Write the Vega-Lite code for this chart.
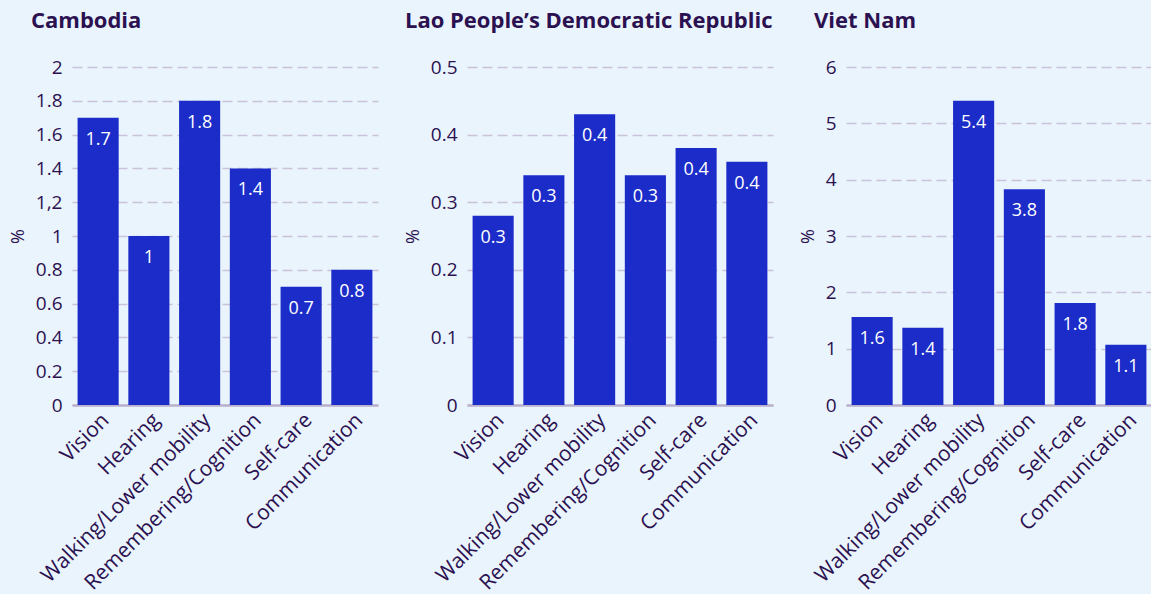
{
  "$schema": "https://vega.github.io/schema/vega-lite/v6.json",
  "background": "#eaf4fd",
  "padding": {"left": 9, "top": 10, "right": 0, "bottom": 0},
  "spacing": 26,
  "datasets": {
    "cambodia": [
      {"domain": "Vision", "value": 1.7},
      {"domain": "Hearing", "value": 1.0},
      {"domain": "Walking/Lower mobility", "value": 1.8},
      {"domain": "Remembering/Cognition", "value": 1.4},
      {"domain": "Self-care", "value": 0.7},
      {"domain": "Communication", "value": 0.8}
    ],
    "lao": [
      {"domain": "Vision", "value": 0.28},
      {"domain": "Hearing", "value": 0.34},
      {"domain": "Walking/Lower mobility", "value": 0.43},
      {"domain": "Remembering/Cognition", "value": 0.34},
      {"domain": "Self-care", "value": 0.38},
      {"domain": "Communication", "value": 0.36}
    ],
    "vietnam": [
      {"domain": "Vision", "value": 1.56},
      {"domain": "Hearing", "value": 1.37},
      {"domain": "Walking/Lower mobility", "value": 5.4},
      {"domain": "Remembering/Cognition", "value": 3.83},
      {"domain": "Self-care", "value": 1.81},
      {"domain": "Communication", "value": 1.07}
    ]
  },
  "config": {
    "font": "Open Sans",
    "view": {"stroke": null},
    "title": {"anchor": "start", "fontSize": 22, "fontWeight": "bold", "color": "#2b1150", "frame": "group", "offset": 25},
    "axis": {"labelColor": "#2b1150", "titleColor": "#2b1150", "labelFontSize": 19, "titleFontSize": 18, "titleFontWeight": "normal", "ticks": false, "labelLimit": 0},
    "axisX": {"labelAngle": -45, "domainColor": "#b9b0cc", "domainWidth": 2.5, "labelPadding": 4, "title": null, "labelFontSize": 21},
    "axisY": {"domain": false, "gridDash": [10, 5], "gridColor": "#c9c2d8", "gridWidth": 1.5, "labelPadding": 10, "titlePadding": 8, "format": "~g"},
    "bar": {"color": "#1b2cc8"},
    "text": {"color": "white", "fontSize": 18, "baseline": "top", "dy": 13}
  },
  "hconcat": [
    {
      "title": {"text": "Cambodia", "dx": -41},
      "data": {"name": "cambodia"},
      "width": 306,
      "height": 338,
      "encoding": {
        "x": {"field": "domain", "type": "nominal", "sort": null, "scale": {"paddingInner": 0.19, "paddingOuter": 0.11}},
        "y": {"field": "value", "type": "quantitative", "title": "%", "scale": {"domain": [0, 2], "nice": false}, "axis": {"values": [0, 0.2, 0.4, 0.6, 0.8, 1, 1.2, 1.4, 1.6, 1.8, 2], "labelExpr": "datum.value == 1.2 ? '1,2' : datum.label"}}
      },
      "layer": [
        {"mark": "bar"},
        {"mark": "text", "encoding": {"text": {"field": "value", "type": "quantitative", "format": ".1~f"}}}
      ]
    },
    {
      "title": {"text": "Lao People’s Democratic Republic", "dx": -62},
      "data": {"name": "lao"},
      "width": 306,
      "height": 338,
      "encoding": {
        "x": {"field": "domain", "type": "nominal", "sort": null, "scale": {"paddingInner": 0.19, "paddingOuter": 0.11}},
        "y": {"field": "value", "type": "quantitative", "title": "%", "scale": {"domain": [0, 0.5], "nice": false}, "axis": {"values": [0, 0.1, 0.2, 0.3, 0.4, 0.5]}}
      },
      "layer": [
        {"mark": "bar"},
        {"mark": "text", "encoding": {"text": {"field": "value", "type": "quantitative", "format": ".1~f"}}}
      ]
    },
    {
      "title": {"text": "Viet Nam", "dx": -32},
      "data": {"name": "vietnam"},
      "width": 306,
      "height": 338,
      "encoding": {
        "x": {"field": "domain", "type": "nominal", "sort": null, "scale": {"paddingInner": 0.19, "paddingOuter": 0.11}},
        "y": {"field": "value", "type": "quantitative", "title": "%", "scale": {"domain": [0, 6], "nice": false}, "axis": {"values": [0, 1, 2, 3, 4, 5, 6]}}
      },
      "layer": [
        {"mark": "bar"},
        {"mark": "text", "encoding": {"text": {"field": "value", "type": "quantitative", "format": ".1~f"}}}
      ]
    }
  ]
}
